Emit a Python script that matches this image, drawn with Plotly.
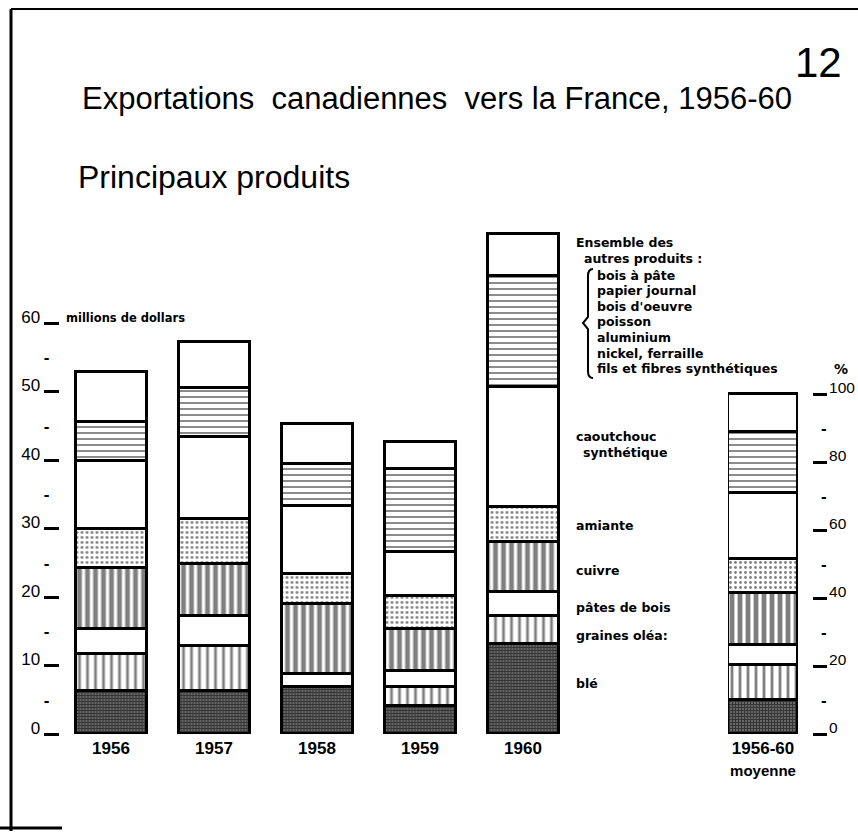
import plotly.graph_objects as go

# ---------------- data ----------------
years = ["1956", "1957", "1958", "1959", "1960"]
ble = [6.3, 6.3, 6.8, 4.1, 13.1]
graines = [5.4, 6.6, 0.0, 2.7, 4.2]
pates = [3.6, 4.4, 2.0, 2.4, 3.4]
cuivre = [9.0, 7.5, 10.2, 6.1, 7.4]
amiante = [5.6, 6.6, 4.4, 4.9, 5.1]
caoutchouc = [10.0, 11.9, 9.9, 6.3, 17.4]
autres_liste = [5.6, 7.2, 6.1, 12.2, 16.2]
autres_ensemble = [7.4, 6.8, 5.9, 4.0, 6.2]

moyenne_label = ["1956-60<br><span style='font-size:15px'>moyenne</span>"]
moyenne_pct = [10.0, 10.3, 5.9, 15.2, 10.0, 19.4, 17.9, 11.3]

series_names = ["blé", "graines oléagineuses", "pâtes de bois", "cuivre", "amiante",
                "caoutchouc synthétique", "autres produits (liste)", "ensemble des autres produits"]
series_values = [ble, graines, pates, cuivre, amiante, caoutchouc, autres_liste, autres_ensemble]

left_ticks = [0, 10, 20, 30, 40, 50, 60]
left_minor = [5, 15, 25, 35, 45, 55]
right_ticks = [0, 20, 40, 60, 80, 100]
right_minor = [10, 30, 50, 70, 90]

# ---------------- styles ----------------
patterns = [
    dict(shape="+", size=3, solidity=0.6, fgcolor="#000", bgcolor="#6a6a6a"),
    dict(shape="|", size=8, solidity=0.35, fgcolor="#000", bgcolor="#fff"),
    dict(shape="", fgcolor="#000", bgcolor="#fff"),
    dict(shape="|", size=8, solidity=0.6, fgcolor="#000", bgcolor="#fff"),
    dict(shape=".", size=5, solidity=0.25, fgcolor="#000", bgcolor="#fff"),
    dict(shape="", fgcolor="#000", bgcolor="#fff"),
    dict(shape="-", size=6, solidity=0.3, fgcolor="#000", bgcolor="#fff"),
    dict(shape="", fgcolor="#000", bgcolor="#fff"),
]

FW = 858
FH = 831
L, R, T, B = 58, 812, 220, 734
W, H = R - L, B - T
LEFT_MAX = H / 6.85
RIGHT_MAX = H / 3.4


def px(x):
    return (x - L) / W


def py(y):
    return (B - y) / H


fig = go.Figure()

for name, vals, pat in zip(series_names, series_values, patterns):
    fig.add_trace(go.Bar(
        x=years, y=vals, name=name, width=0.68,
        marker=dict(color="white", pattern=pat, line=dict(color="black", width=3)),
        xaxis="x", yaxis="y", showlegend=False,
    ))

for name, val, pat in zip(series_names, moyenne_pct, patterns):
    fig.add_trace(go.Bar(
        x=moyenne_label, y=[val], name=name, width=1.0,
        marker=dict(color="white", pattern=pat, line=dict(color="black", width=3)),
        xaxis="x2", yaxis="y2", showlegend=False,
    ))

# dummy traces so the minor-label axes are drawn
fig.add_trace(go.Scatter(x=[None], y=[None], xaxis="x", yaxis="y3", showlegend=False, hoverinfo="skip"))
fig.add_trace(go.Scatter(x=[None], y=[None], xaxis="x", yaxis="y4", showlegend=False, hoverinfo="skip"))

num_font = dict(family="Liberation Sans", size=17, color="black")
num_font_r = dict(family="Liberation Sans", size=15.5, color="black")
bold = dict(family="DejaVu Sans", size=12.5, color="black", weight="bold")
year_font = dict(family="Liberation Sans", size=17, color="black", weight="bold")
dash_font = dict(family="Liberation Sans", size=17, color="black", weight="bold")

common = dict(showgrid=False, zeroline=False, showline=False, automargin=False)

fig.update_layout(
    width=FW, height=FH,
    margin=dict(l=L, r=FW - R, t=T, b=FH - B, autoexpand=False),
    paper_bgcolor="white", plot_bgcolor="white",
    barmode="stack", bargap=0,
    showlegend=False,
    xaxis=dict(domain=[px(111 - 51.5), px(523 + 51.5)], type="category", ticks="",
               tickfont=year_font, ticklabelstandoff=2, **common),
    xaxis2=dict(domain=[px(728), px(798)], type="category", anchor="y2", range=[-0.5, 0.5],
                ticks="", tickfont=year_font, ticklabelstandoff=2, **common),
    yaxis=dict(range=[0, LEFT_MAX],
               tickmode="array", tickvals=left_ticks, ticktext=[str(v) for v in left_ticks],
               ticks="outside", ticklen=15, tickwidth=2.5, tickcolor="black",
               tickfont=num_font, ticklabelshift=-6, ticklabelstandoff=0, **common),
    yaxis2=dict(range=[0, RIGHT_MAX], overlaying="y", anchor="free", position=1.0, side="right",
                tickmode="array", tickvals=right_ticks, ticktext=[str(v) for v in right_ticks],
                ticks="outside", ticklen=14, tickwidth=2.5, tickcolor="black",
                tickfont=num_font_r, ticklabelshift=-6, ticklabelstandoff=-1, **common),
    yaxis3=dict(range=[0, LEFT_MAX], overlaying="y", side="left", anchor="x",
                tickmode="array", tickvals=left_minor, ticktext=["-"] * len(left_minor),
                ticks="", tickfont=dash_font, ticklabelstandoff=9, **common),
    yaxis4=dict(range=[0, RIGHT_MAX], overlaying="y", anchor="free", position=1.0, side="right",
                tickmode="array", tickvals=right_minor, ticktext=["-"] * len(right_minor),
                ticks="", tickfont=dash_font, ticklabelstandoff=8, **common),
)

ann = []


def text(x, y, s, font, xanchor="left"):
    ann.append(dict(x=px(x), y=py(y), xref="paper", yref="paper", text=s, showarrow=False,
                    xanchor=xanchor, yanchor="middle", font=font))


title_font = dict(family="Liberation Sans", size=31, color="black")
text(80, 99, "Exportations&nbsp;&nbsp;canadiennes&nbsp;&nbsp;vers la France, 1956-60", title_font)
text(76, 177, "Principaux produits", dict(family="Liberation Sans", size=32, color="black"))
text(818, 62, "12", dict(family="Liberation Sans", size=42, color="black"), xanchor="center")
text(64, 318, "millions de dollars", dict(family="DejaVu Sans", size=11.5, color="black", weight="bold"))
text(841, 369, "%", dict(family="DejaVu Sans", size=14, color="black", weight="bold"), xanchor="center")

text(574, 243, "Ensemble des", bold)
text(582, 258, "autres produits :", bold)
for i, s in enumerate(["bois à pâte", "papier journal", "bois d'oeuvre", "poisson",
                       "aluminium", "nickel, ferraille", "fils et fibres synthétiques"]):
    text(595, 275 + i * 15.6, s, bold)
text(574, 436, "caoutchouc", bold)
text(581, 452, "synthétique", bold)
text(574, 525, "amiante", bold)
text(574, 570, "cuivre", bold)
text(574, 607, "pâtes de bois", bold)
text(574, 635, "graines oléa:", bold)
text(574, 683, "blé", bold)

fig.update_layout(annotations=ann)

# frame lines and legend brace (decoration)
shapes = [
    dict(type="line", xref="paper", yref="paper", x0=px(11), x1=px(858), y0=py(9), y1=py(9),
         line=dict(color="black", width=2)),
    dict(type="line", xref="paper", yref="paper", x0=px(11), x1=px(11), y0=py(9), y1=py(835),
         line=dict(color="black", width=3)),
    dict(type="line", xref="paper", yref="paper", x0=px(0), x1=px(62), y0=py(828), y1=py(828),
         line=dict(color="black", width=3)),
]
bx, btop, bmid, bbot = 588, 269, 323, 378
path = (f"M {px(bx+5)},{py(btop)} Q {px(bx)},{py(btop)} {px(bx)},{py(btop+7)} "
        f"L {px(bx)},{py(bmid-6)} L {px(bx-5)},{py(bmid)} L {px(bx)},{py(bmid+6)} "
        f"L {px(bx)},{py(bbot-7)} Q {px(bx)},{py(bbot)} {px(bx+5)},{py(bbot)}")
shapes.append(dict(type="path", xref="paper", yref="paper", path=path,
                   line=dict(color="black", width=2)))
fig.update_layout(shapes=shapes)

fig.write_html(
    "out.html",
    config={"displayModeBar": False},
    post_script=("document.documentElement.style.overflow='hidden';"
                 "document.body.style.margin='0';document.body.style.overflow='hidden';"),
)
